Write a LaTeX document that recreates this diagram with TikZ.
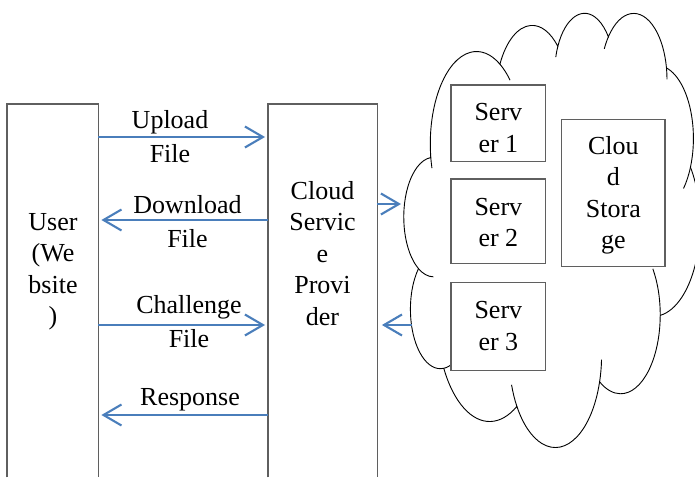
\documentclass[tikz,border=0pt]{standalone}
\usepackage{fontspec}
\setmainfont{Liberation Serif}
\usetikzlibrary{arrows.meta}
\definecolor{arrowblue}{HTML}{4A7EBB}
\definecolor{boxgray}{HTML}{5F5F5F}
% visual (DrawingML) arc angles -> parametric start angle and sweep
\newcommand\ooparams[6]{%
  \pgfmathsetmacro#1{atan2((#3)*sin(#5),(#4)*cos(#5))}%
  \pgfmathsetmacro\ootmp{atan2((#3)*sin((#5)+(#6)),(#4)*cos((#5)+(#6)))}%
  \pgfmathsetmacro#2{mod(\ootmp-#1+720,360)}%
}
\begin{document}
\begin{tikzpicture}[x=1pt,y=1pt,
  boxline/.style={draw=boxgray, line width=1.2pt},
  txt/.style={font=\fontsize{26}{31.5}\selectfont, align=center, inner sep=0pt},
  lbl/.style={font=\fontsize{26}{34}\selectfont, align=center, inner sep=0pt},
  flow/.style={draw=arrowblue, line width=2.1pt, -{Straight Barb[length=18pt,width=21pt]}},
  cloudline/.style={draw=black, line width=0.9pt},
  srv/.style={draw=boxgray, line width=1.2pt, fill=white, inner sep=0pt},
]
\useasboundingbox (0,0) rectangle (695,477);

% ---- cloud geometry (Office cloud shape) ----
\ooparams{\clAs}{\clAd}{6753}{9190}{-190.487483}{123.780533}
\ooparams{\clBs}{\clBd}{5333}{7267}{-144.102383}{89.945233}
\ooparams{\clCs}{\clCd}{4365}{5945}{-145.807917}{99.723017}
\ooparams{\clDs}{\clDd}{4857}{6595}{-130.986067}{117.241733}
\ooparams{\clEs}{\clEd}{5333}{7273}{-78.708883}{109.026917}
\ooparams{\clFs}{\clFd}{6775}{9220}{-46.26725}{130.269}
\ooparams{\clGs}{\clGd}{5785}{7867}{0.625017}{114.033333}
\ooparams{\clHs}{\clHd}{6752}{9215}{22.4516}{115.17255}
\ooparams{\clIs}{\clId}{7720}{10543}{66.242633}{75.711017}
\ooparams{\clJs}{\clJd}{4360}{5918}{-274.942083}{146.735567}
\ooparams{\clKs}{\clKd}{4345}{5945}{-246.8285}{152.51885}
\pgfmathsetmacro\clAe{\clAs+\clAd}
\pgfmathsetmacro\clDe{\clDs+\clDd}
\pgfmathsetmacro\clEe{\clEs+\clEd}
\pgfmathsetmacro\clHe{\clHs+\clHd}

\begin{scope}[shift={(404,465.1)}, xscale=0.685, yscale=-1.0047]
  \draw[cloudline] (39,143.7) coordinate (J0)
    arc[x radius=67.53, y radius=91.90, start angle=\clAs, delta angle=\clAd] coordinate (J1)
    arc[x radius=53.33, y radius=72.67, start angle=\clBs, delta angle=\clBd] coordinate (J2)
    arc[x radius=43.65, y radius=59.45, start angle=\clCs, delta angle=\clCd] coordinate (J3)
    arc[x radius=48.57, y radius=65.95, start angle=\clDs, delta angle=\clDd] coordinate (J4)
    arc[x radius=53.33, y radius=72.73, start angle=\clEs, delta angle=\clEd] coordinate (J5)
    arc[x radius=67.75, y radius=92.20, start angle=\clFs, delta angle=\clFd] coordinate (J6)
    arc[x radius=57.85, y radius=78.67, start angle=\clGs, delta angle=\clGd] coordinate (J7)
    arc[x radius=67.52, y radius=92.15, start angle=\clHs, delta angle=\clHd] coordinate (J8)
    arc[x radius=77.20, y radius=105.43, start angle=\clIs, delta angle=\clId] coordinate (J9)
    arc[x radius=43.60, y radius=59.18, start angle=\clJs, delta angle=\clJd] coordinate (J10)
    arc[x radius=43.45, y radius=59.45, start angle=\clKs, delta angle=\clKd] -- cycle;
  % inner stubs
  \draw[cloudline] (J0) arc[x radius=67.53, y radius=91.90, start angle=\clAs, delta angle=-7.5];
  \draw[cloudline] (J1) arc[x radius=67.53, y radius=91.90, start angle=\clAe, delta angle=16];
  \draw[cloudline] (J2) arc[x radius=43.65, y radius=59.45, start angle=\clCs, delta angle=-11];
  \draw[cloudline] (J3) arc[x radius=48.57, y radius=65.95, start angle=\clDs, delta angle=-12.5];
  \draw[cloudline] (J4) arc[x radius=48.57, y radius=65.95, start angle=\clDe, delta angle=10];
  \draw[cloudline] (J5) arc[x radius=53.33, y radius=72.73, start angle=\clEe, delta angle=20];
  \draw[cloudline] (J6) arc[x radius=57.85, y radius=78.67, start angle=\clGs, delta angle=-36];
  \draw[cloudline] (J7) arc[x radius=67.52, y radius=92.15, start angle=\clHs, delta angle=-14];
  \draw[cloudline] (J8) arc[x radius=67.52, y radius=92.15, start angle=\clHe, delta angle=15];
  \draw[cloudline] (J9) arc[x radius=43.60, y radius=59.18, start angle=\clJs, delta angle=-20];
  \draw[cloudline] (J10) arc[x radius=43.45, y radius=59.45, start angle=\clKs, delta angle=-30];
\end{scope}

% ---- boxes inside the cloud ----
\node[srv, minimum width=94.7pt, minimum height=76.7pt] (s1) at (498.35,353.65) {};
\node[srv, minimum width=94.7pt, minimum height=84.3pt] (s2) at (498.35,255.85) {};
\node[srv, minimum width=94.7pt, minimum height=88pt] (s3) at (498.35,150.3) {};
\node[srv, minimum width=103.3pt, minimum height=147.4pt] (store) at (613.35,284) {};
\node[txt] (s1t) at (498.35,349.1) {Serv\\er 1};
\node[txt] (s2t) at (498.35,254.5) {Serv\\er 2};
\node[txt] (s3t) at (498.35,151) {Serv\\er 3};
\node[txt] (storet) at (613.35,281.5) {Clou\\d\\Stora\\ge};

% ---- user and provider boxes (open at the bottom) ----
\node[inner sep=0pt, minimum width=91pt, minimum height=373pt, anchor=north west] (user) at (7,373) {};
\node[inner sep=0pt, minimum width=109pt, minimum height=373pt, anchor=north west] (csp) at (268,373) {};
\draw[boxline] (user.south west) -- (user.north west) -- (user.north east) -- (user.south east);
\draw[boxline] (csp.south west) -- (csp.north west) -- (csp.north east) -- (csp.south east);
\node[txt] (usert) at (53,205.1) {User\\(We\\bsite\\)};
\node[txt] (cspt) at (322.5,223.4) {Cloud\\Servic\\e\\Provi\\der};

% ---- message arrows ----
\draw[flow, shorten >=3pt] (user.east |- 0,340) -- (csp.west |- 0,340);
\draw[flow, shorten >=3pt] (csp.west |- 0,257) -- (user.east |- 0,257);
\draw[flow, shorten >=3pt] (user.east |- 0,152) -- (csp.west |- 0,152);
\draw[flow, shorten >=3pt] (csp.west |- 0,62) -- (user.east |- 0,62);
\node[lbl] (l1) at (170,339.9) {Upload\\File};
\node[lbl] (l2) at (187.5,255.6) {Download\\File};
\node[lbl] (l3) at (189,155.6) {Challenge\\File};
\node[lbl, anchor=base] (l4) at (190,71.7) {Response};

% ---- provider <-> cloud ----
\coordinate (cloudin) at (401,273);
\coordinate (cloudout) at (411.7,152);
\draw[flow] (csp.east |- 0,273) -- (cloudin);
\draw[flow, shorten >=4.5pt] (cloudout) -- (csp.east |- 0,152);
\end{tikzpicture}
\end{document}
